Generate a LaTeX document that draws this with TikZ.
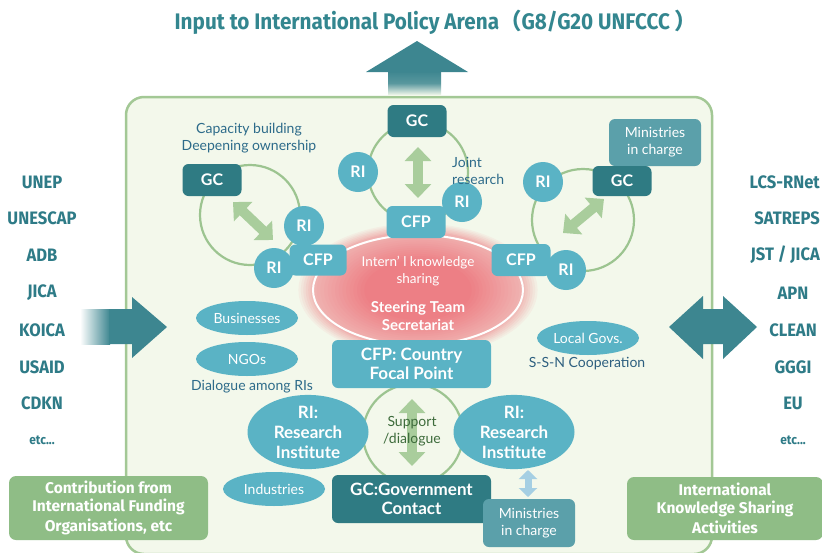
\documentclass[tikz,border=0pt]{standalone}
\usepackage{fontspec}
\setmainfont{Lato}
\newfontfamily\condfont[FakeStretch=0.92]{Fira Sans}
\newfontfamily\semifont{Fira Sans}
\newfontfamily\cjk{Noto Sans CJK SC}
\usetikzlibrary{arrows.meta,shapes.geometric}
\definecolor{arrteal}{HTML}{3D8690}
\definecolor{titlecol}{HTML}{33868F}
\definecolor{listcol}{HTML}{2E7B87}
\definecolor{gcdark}{HTML}{2F7B83}
\definecolor{ltblue}{HTML}{5AB3C5}
\definecolor{midteal}{HTML}{5BA0AA}
\definecolor{grnline}{HTML}{9CC490}
\definecolor{grnarrow}{HTML}{A9CD9C}
\definecolor{boxfill}{HTML}{F3F8EB}
\definecolor{boxline}{HTML}{A3C895}
\definecolor{grnbox}{HTML}{8FBD86}
\definecolor{txtblue}{HTML}{2D6B8A}
\definecolor{ssncol}{HTML}{2D5F7F}
\definecolor{suppcol}{HTML}{3D6B3B}
\definecolor{pinkA}{HTML}{ED7F85}
\definecolor{smallarr}{HTML}{A5CFE3}
\newcommand\fsz[1]{\fontsize{#1}{#1}\selectfont}
\tikzset{
  gcbox/.style={rectangle, rounded corners=6pt, fill=gcdark, text=white, font=\bfseries\fsz{16}, minimum width=59, minimum height=32, inner sep=0pt},
  cfpbox/.style={gcbox, fill=ltblue},
  ricirc/.style={circle, fill=ltblue, text=white, font=\bfseries\fsz{16}, minimum size=40, inner sep=0pt},
  oval/.style={ellipse, fill=ltblue, text=white, font=\fsz{14}, minimum width=102, minimum height=34, inner sep=0pt},
  bigoval/.style={ellipse, fill=ltblue, text=white, font=\bfseries\fsz{17}, minimum width=121, minimum height=72, inner sep=0pt, align=center},
  minbox/.style={rectangle, rounded corners=6pt, fill=midteal, text=white, font=\fsz{14}, minimum width=92, minimum height=47, inner sep=0pt, align=center},
  widebox/.style={rectangle, rounded corners=6pt, text=white, font=\bfseries\fsz{17}, minimum width=159, minimum height=48, inner sep=0pt, align=center},
  greenbox/.style={rectangle, rounded corners=7pt, fill=grnbox, text=white, font=\semifont\bfseries\fsz{15.5}, inner sep=0pt, align=center},
  listtxt/.style={text=listcol, font=\condfont\bfseries\fsz{18}, inner sep=0pt},
  bluetxt/.style={text=txtblue, font=\fsz{14}, align=center, inner sep=0pt},
  ring/.style={draw=grnline, line width=2.2pt},
  gdarrow/.style={draw=grnarrow, line width=10pt, {Triangle[width=26pt,length=14pt]}-{Triangle[width=26pt,length=14pt]}},
}
\begin{document}
\begin{tikzpicture}[x=1pt,y=-1pt]
\useasboundingbox (0,0) rectangle (822,552);
\clip (0,0) rectangle (822,552);
\fill[white] (0,0) rectangle (822,552);
% title
\node[text=titlecol, font=\condfont\bfseries\fsz{22.5}, inner sep=0pt] (title) at (436,22) {Input to International Policy Arena{\cjk （}G8/G20 UNFCCC {\cjk ）}};
% main box
\draw[fill=boxfill, draw=boxline, line width=2.5pt, rounded corners=18pt] (126,97) rectangle (712,554);
% up arrow
\shade[top color=arrteal, bottom color=boxfill, middle color=arrteal!85!boxfill] (388,71) rectangle (441,95);
\fill[arrteal] (366,72) -- (417,41) -- (468,72) -- cycle;
% left arrow
\shade[left color=white, right color=arrteal] (80,309) rectangle (110,344);
\fill[arrteal] (109,309) -- (132,309) -- (132,297) -- (167,327) -- (132,358) -- (132,344) -- (109,344) -- cycle;
% right double arrow
\fill[arrteal] (669,327) -- (703,296) -- (703,309) -- (723,309) -- (723,296) -- (757,327) -- (723,359) -- (723,344) -- (703,344) -- (703,359) -- cycle;
% lists
\foreach \t/\y in {UNEP/182,UNESCAP/218,ADB/255,JICA/293,KOICA/330,USAID/367,CDKN/403}{
  \node[listtxt] (L\y) at (42,\y) {\t};
}
\node[listtxt, font=\condfont\bfseries\fsz{13}] (Letc) at (42,440) {etc...};
\foreach \t/\y in {LCS-RNet/182,SATREPS/218,{JST / JICA}/255}{
  \node[listtxt, anchor=east] (R\y) at (820,\y) {\t};
}
\foreach \t/\y in {APN/293,CLEAN/330,GGGI/367,EU/403}{
  \node[listtxt] (R\y) at (793,\y) {\t};
}
\node[listtxt, font=\condfont\bfseries\fsz{13}] (Retc) at (793,440) {etc...};
% green boxes
\node[greenbox, minimum width=199, minimum height=64] (contrib) at (108.5,508) {Contribution from\\[3pt]International Funding\\[3pt]Organisations, etc};
\node[greenbox, minimum width=196, minimum height=63] (iksa) at (725,508.5) {International\\[3pt]Knowledge Sharing\\[3pt]Activities};
% rings
\draw[ring] (418,172) circle (50);
\draw[ring] (250,215) circle (50);
\draw[ring] (583,220) circle (51);
\draw[ring] (413,434) circle (50);
% pink glow
\foreach \i in {0,...,7}{
  \pgfmathsetmacro\s{1-\i*0.02}
  \pgfmathsetmacro\p{\i*8}
  \fill[pinkA!\p!boxfill] (418,290) ellipse ({122*\s} and {68*\s});
}
\foreach \i in {0,...,14}{
  \pgfmathsetmacro\s{0.86-\i*0.03}
  \pgfmathsetmacro\p{min(100,58+\i*3)}
  \fill[pinkA!\p!boxfill] (418,290) ellipse ({122*\s} and {68*\s});
}
\node[ellipse, minimum width=210, minimum height=110, draw=white, line width=2pt, inner sep=0pt] (steer) at (418,290) {};
\node[text=white, font=\fsz{13.5}, align=center, inner sep=0pt] (intern) at (418,271) {Intern’ l knowledge\\[3pt]sharing};
\node[text=white, font=\bfseries\fsz{15}, align=center, inner sep=0pt] (steertxt) at (418,316) {Steering Team\\[3pt]Secretariat};
% top cluster
\coordinate (ta) at (418,147);
\coordinate (tb) at (418,198);
\draw[gdarrow] (ta) -- (tb);
\node[gcbox] (gcT) at (417,121) {GC};
\node[ricirc] (riT1) at (358,172) {RI};
\node[ricirc] (riT2) at (462,202) {RI};
\node[cfpbox] (cfpT) at (416,222) {CFP};
\node[bluetxt, align=left, anchor=west] (joint) at (452,171) {Joint\\[3pt]research};
% left cluster
\coordinate (la) at (233,202);
\coordinate (lb) at (273,240);
\draw[gdarrow] (la) -- (lb);
\node[gcbox] (gcL) at (212,180) {GC};
\node[ricirc] (riL1) at (304,226) {RI};
\node[cfpbox, minimum width=57, minimum height=31] (cfpL) at (318,260) {CFP};
\node[ricirc] (riL2) at (274,268) {RI};
\node[bluetxt] (cap) at (249,138) {Capacity building\\[3pt]Deepening ownership};
% right cluster
\coordinate (ra) at (604,199);
\coordinate (rb) at (563,233);
\draw[gdarrow] (ra) -- (rb);
\node[minbox] (minR) at (655,142.5) {Ministries\\[3pt]in charge};
\node[gcbox, minimum height=30] (gcR) at (622,181) {GC};
\node[ricirc] (riR1) at (543,182) {RI};
\node[cfpbox] (cfpR) at (521,260) {CFP};
\node[ricirc] (riR2) at (566,270) {RI};
% middle
\node[oval] (bus) at (247,318) {Businesses};
\node[oval] (ngo) at (247,359) {NGOs};
\node[bluetxt] (dial) at (252,387) {Dialogue among RIs};
\node[widebox, fill=ltblue] (cfpC) at (411.5,364) {CFP: Country\\[2pt]Focal Point};
\node[oval] (lg) at (588,338) {Local Govs.};
\node[bluetxt, text=ssncol] (ssn) at (587,364) {S-S-N Cooperation};
% bottom cluster
\coordinate (ba) at (412,399);
\coordinate (bb) at (412,466);
\draw[gdarrow] (ba) -- (bb);
\node[text=suppcol, font=\fsz{14}, align=center, inner sep=0pt] (supp) at (412,431) {Support\\[3pt]/dialogue};
\node[bigoval] (riB1) at (308,432) {RI:\\[3pt]Research\\[3pt]Institute};
\node[bigoval] (riB2) at (514,432) {RI:\\[3pt]Research\\[3pt]Institute};
\node[oval] (ind) at (274,489) {Industries};
\node[widebox, fill=gcdark] (gcC) at (411.5,499) {GC:Government\\[2pt]Contact};
\node[minbox, minimum height=48] (minB) at (529,523) {Ministries\\[3pt]in charge};
\coordinate (sa) at (528,470);
\coordinate (sb) at (528,497);
\draw[draw=smallarr, line width=7pt, {Triangle[width=18pt,length=9pt]}-{Triangle[width=18pt,length=9pt]}] (sa) -- (sb);
\end{tikzpicture}
\end{document}
